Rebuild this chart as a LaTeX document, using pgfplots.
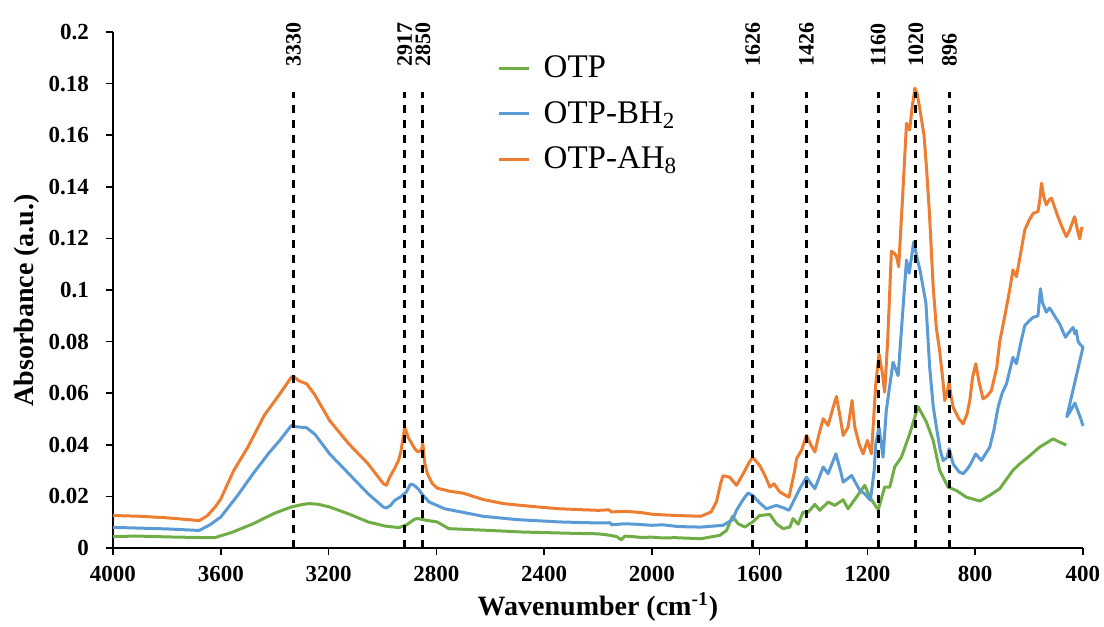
\documentclass[border=0pt]{standalone}
\usepackage{fontspec}
\setmainfont{Liberation Serif}
\usepackage{pgfplots}
\pgfplotsset{compat=1.18}
\definecolor{otpgreen}{HTML}{70AD47}
\definecolor{otpblue}{HTML}{5B9BD5}
\definecolor{otporange}{HTML}{ED7D31}
\begin{document}
\begin{tikzpicture}
\useasboundingbox (-56.5pt,-39.5pt) rectangle (495.5pt,274pt);
\begin{axis}[
  at={(0,0)}, anchor=south west,
  scale only axis, width=485pt, height=258pt,
  x dir=reverse, xmin=400, xmax=4000, ymin=0, ymax=0.2,
  axis x line*=bottom, axis y line*=left,
  axis line style={line width=0.8pt, black},
  tick style={line width=0.8pt, black},
  tick align=outside, major tick length=3.5pt,
  xtick={4000,3600,3200,2800,2400,2000,1600,1200,800,400},
  xticklabels={4000,3600,3200,2800,2400,2000,1600,1200,800,400},
  ytick={0,0.02,0.04,0.06,0.08,0.1,0.12,0.14,0.16,0.18,0.2},
  yticklabels={0,0.02,0.04,0.06,0.08,0.1,0.12,0.14,0.16,0.18,0.2},
  scaled ticks=false,
  ticklabel style={font=\bfseries\fontsize{11.5}{13}\selectfont},
  xticklabel style={yshift=-2pt},
  yticklabel style={xshift=-5pt},
  xlabel={Wavenumber (cm\textsuperscript{-1})},
  ylabel={Absorbance (a.u.)},
  every axis x label/.style={at={(axis description cs:0.5,0)}, yshift=-29.5pt, anchor=center,
    font=\bfseries\fontsize{14}{16}\selectfont},
  every axis y label/.style={at={(axis description cs:0,0.48)}, xshift=-43pt, anchor=center, rotate=90,
    font=\bfseries\fontsize{14}{16}\selectfont},
  clip=false,
  legend style={at={(axis description cs:0.396,0.962)}, anchor=north west, draw=none, fill=none,
    font=\fontsize{16.5}{18}\selectfont, row sep=6.3pt, inner sep=0pt,
    /tikz/every odd column/.append style={column sep=4.5pt}},
  legend cell align=left,
  legend image code/.code={\draw[#1, line width=1.6pt] (0pt,0pt) -- (15pt,0pt);},
  every axis plot/.append style={line width=1.5pt, line join=round},
]
\addplot[otpgreen] coordinates {
(4000,0.0045)(3900,0.0046)(3800,0.0043)(3700,0.0041)(3623,0.0040)(3560,0.0060)(3480,0.0094)(3400,0.0135)(3338,0.0159)(3300,0.0168)(3274,0.0172)(3240,0.0170)(3196,0.0159)(3120,0.0130)(3053,0.0101)(2990,0.0085)(2939,0.0079)(2910,0.0090)(2880,0.0112)(2868,0.0114)(2840,0.0108)(2797,0.0101)(2770,0.0085)(2754,0.0075)(2600,0.0068)(2484,0.0062)(2300,0.0057)(2199,0.0055)(2160,0.0050)(2130,0.0044)(2114,0.0032)(2100,0.0046)(2080,0.0045)(2040,0.0041)(2000,0.0042)(1960,0.0039)(1914,0.0040)(1818,0.0036)(1748,0.0049)(1723,0.0068)(1701,0.0123)(1680,0.0094)(1655,0.0081)(1626,0.0101)(1600,0.0126)(1562,0.0130)(1538,0.0094)(1513,0.0075)(1488,0.0081)(1476,0.0114)(1457,0.0092)(1439,0.0139)(1420,0.0139)(1395,0.0169)(1377,0.0146)(1346,0.0178)(1321,0.0165)(1290,0.0187)(1272,0.0152)(1241,0.0197)(1210,0.0243)(1191,0.0197)(1160,0.0148)(1136,0.0236)(1117,0.0236)(1099,0.0314)(1074,0.0352)(1043,0.0443)(1012,0.0548)(981,0.0488)(956,0.0417)(932,0.0301)(901,0.0236)(870,0.0223)(833,0.0197)(783,0.0182)(746,0.0204)(709,0.0230)(660,0.0301)(635,0.0326)(604,0.0352)(561,0.0391)(511,0.0423)(486,0.0410)(462,0.0399)
};
\addlegendentry{OTP}
\addplot[otpblue] coordinates {
(4000,0.0080)(3900,0.0077)(3800,0.0074)(3700,0.0069)(3680,0.0068)(3640,0.0090)(3600,0.0120)(3540,0.0200)(3480,0.0288)(3420,0.0370)(3381,0.0417)(3338,0.0475)(3320,0.0470)(3281,0.0466)(3250,0.0440)(3196,0.0365)(3125,0.0288)(3053,0.0210)(2997,0.0159)(2985,0.0155)(2970,0.0165)(2954,0.0185)(2930,0.0200)(2911,0.0217)(2897,0.0246)(2885,0.0245)(2868,0.0230)(2850,0.0205)(2826,0.0178)(2769,0.0152)(2700,0.0138)(2627,0.0123)(2500,0.0110)(2342,0.0101)(2200,0.0097)(2155,0.0098)(2150,0.0090)(2100,0.0094)(2057,0.0092)(2000,0.0088)(1960,0.0090)(1900,0.0083)(1818,0.0081)(1736,0.0088)(1700,0.0110)(1686,0.0146)(1660,0.0190)(1643,0.0213)(1626,0.0204)(1600,0.0175)(1575,0.0152)(1538,0.0165)(1510,0.0155)(1491,0.0146)(1470,0.0190)(1451,0.0230)(1426,0.0275)(1410,0.0250)(1395,0.0230)(1364,0.0314)(1346,0.0288)(1317,0.0365)(1300,0.0300)(1290,0.0255)(1259,0.0281)(1228,0.0223)(1210,0.0210)(1189,0.0185)(1175,0.0300)(1169,0.0404)(1157,0.0468)(1142,0.0352)(1130,0.0533)(1105,0.0720)(1086,0.0668)(1070,0.0900)(1055,0.1116)(1045,0.1065)(1028,0.1187)(1015,0.1120)(1005,0.1078)(983,0.0950)(969,0.0701)(956,0.0550)(944,0.0468)(930,0.0380)(919,0.0339)(905,0.0350)(897,0.0385)(882,0.0326)(860,0.0295)(845,0.0288)(830,0.0305)(820,0.0320)(798,0.0365)(777,0.0339)(746,0.0391)(730,0.0460)(715,0.0546)(700,0.0600)(684,0.0636)(660,0.0739)(647,0.0714)(630,0.0800)(616,0.0862)(600,0.0880)(585,0.0894)(567,0.0900)(558,0.1005)(550,0.0950)(536,0.0914)(525,0.0930)(517,0.0920)(500,0.0890)(486,0.0868)(475,0.0840)(465,0.0817)(456,0.0830)(445,0.0845)(437,0.0855)(430,0.0830)(425,0.0843)(418,0.0800)(412,0.0791)(400,0.0778)(460,0.0509)(450,0.0525)(430,0.0562)(418,0.0528)(408,0.0500)(400,0.0473)
};
\addlegendentry{OTP-BH\textsubscript{2}}
\addplot[otporange] coordinates {
(4000,0.0126)(3900,0.0123)(3800,0.0117)(3700,0.0108)(3680,0.0106)(3650,0.0125)(3620,0.0160)(3600,0.0190)(3552,0.0300)(3500,0.0390)(3438,0.0515)(3381,0.0597)(3338,0.0662)(3330,0.0665)(3310,0.0648)(3281,0.0636)(3253,0.0597)(3196,0.0494)(3125,0.0404)(3053,0.0326)(2997,0.0250)(2985,0.0243)(2975,0.0270)(2954,0.0310)(2940,0.0340)(2932,0.0370)(2917,0.0468)(2905,0.0430)(2897,0.0415)(2880,0.0385)(2868,0.0372)(2855,0.0380)(2850,0.0404)(2843,0.0330)(2833,0.0288)(2815,0.0250)(2797,0.0232)(2750,0.0220)(2698,0.0212)(2627,0.0188)(2550,0.0172)(2484,0.0165)(2400,0.0157)(2342,0.0152)(2250,0.0148)(2200,0.0146)(2160,0.0148)(2150,0.0140)(2100,0.0142)(2057,0.0139)(2030,0.0136)(2000,0.0131)(1950,0.0128)(1914,0.0126)(1818,0.0123)(1780,0.0140)(1760,0.0180)(1745,0.0250)(1736,0.0280)(1712,0.0275)(1686,0.0243)(1660,0.0290)(1640,0.0330)(1626,0.0352)(1600,0.0320)(1580,0.0280)(1562,0.0236)(1547,0.0249)(1525,0.0217)(1491,0.0197)(1470,0.0300)(1463,0.0346)(1445,0.0378)(1426,0.0436)(1410,0.0400)(1395,0.0372)(1380,0.0440)(1364,0.0501)(1346,0.0475)(1327,0.0546)(1315,0.0587)(1300,0.0500)(1290,0.0436)(1272,0.0468)(1257,0.0572)(1247,0.0468)(1230,0.0400)(1216,0.0365)(1200,0.0417)(1185,0.0365)(1169,0.0636)(1157,0.0752)(1145,0.0680)(1136,0.0604)(1125,0.0800)(1111,0.1150)(1100,0.1142)(1092,0.1130)(1084,0.1090)(1070,0.1350)(1055,0.1646)(1043,0.1620)(1035,0.1700)(1024,0.1782)(1015,0.1760)(1005,0.1698)(990,0.1600)(981,0.1478)(970,0.1300)(956,0.1013)(944,0.0850)(932,0.0765)(920,0.0650)(913,0.0572)(905,0.0600)(897,0.0643)(890,0.0590)(882,0.0546)(860,0.0500)(845,0.0481)(830,0.0520)(820,0.0572)(810,0.0660)(798,0.0714)(785,0.0640)(771,0.0578)(755,0.0590)(740,0.0610)(720,0.0700)(709,0.0800)(690,0.0900)(672,0.1000)(660,0.1078)(647,0.1052)(630,0.1150)(616,0.1233)(600,0.1270)(585,0.1297)(567,0.1304)(560,0.1350)(554,0.1414)(545,0.1360)(536,0.1330)(525,0.1350)(517,0.1356)(505,0.1320)(493,0.1284)(480,0.1250)(462,0.1207)(450,0.1230)(440,0.1260)(431,0.1284)(420,0.1230)(412,0.1198)(405,0.1240)(400,0.1237)
};
\addlegendentry{OTP-AH\textsubscript{8}}
\pgfplotsinvokeforeach{3330,2917,2850,1626,1426,1160,1020,896}{
  \addplot[black, line width=1.5pt, dash pattern=on 4pt off 3.5pt, forget plot] coordinates {(#1,0) (#1,0.1767)};
  \node[rotate=90, anchor=west, font=\bfseries\fontsize{11}{12}\selectfont, inner sep=0pt] at (axis cs:#1,0.1864) {#1};
}
\end{axis}
\end{tikzpicture}
\end{document}
